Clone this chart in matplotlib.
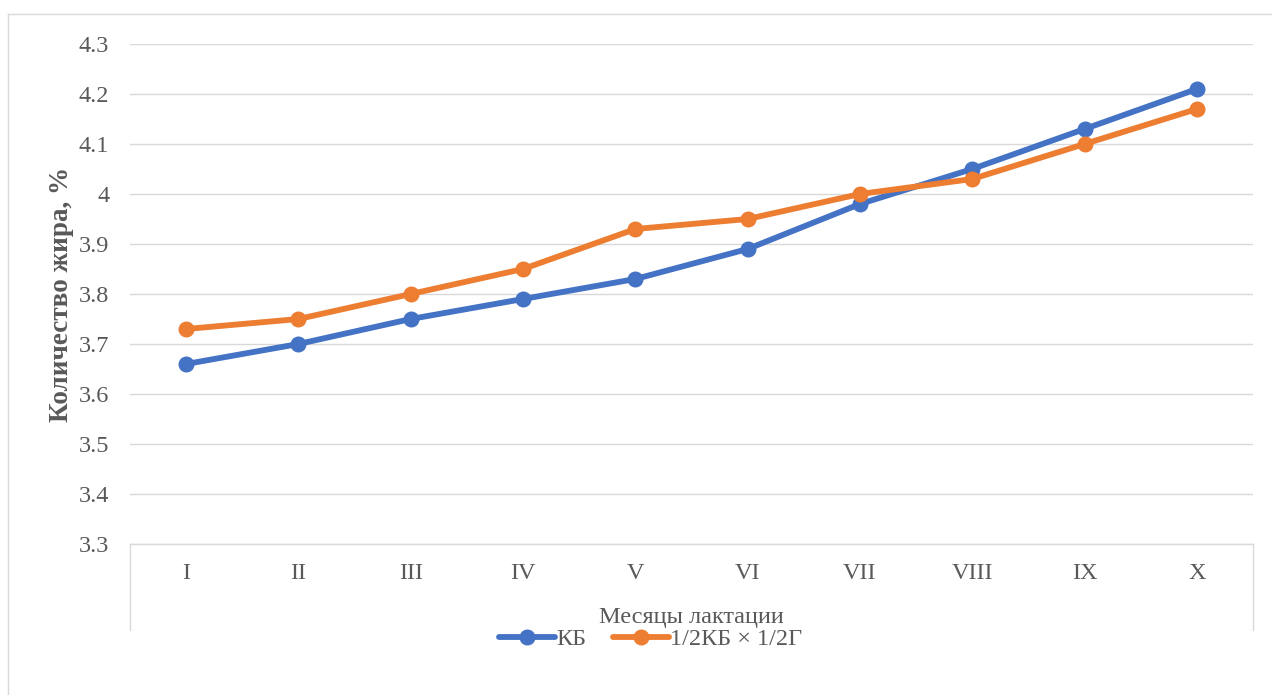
#!/usr/bin/env python3

import matplotlib.pyplot as plt
from matplotlib.lines import Line2D
from matplotlib.ticker import FuncFormatter, MultipleLocator

months = ["I", "II", "III", "IV", "V", "VI", "VII", "VIII", "IX", "X"]
kb = [3.66, 3.70, 3.75, 3.79, 3.83, 3.89, 3.98, 4.05, 4.13, 4.21]
kb_g = [3.73, 3.75, 3.80, 3.85, 3.93, 3.95, 4.00, 4.03, 4.10, 4.17]

series_labels = ["КБ", "1/2КБ × 1/2Г"]
text_color = "#595959"
grid_color = "#D9D9D9"


def main():
    plt.rcParams["font.family"] = ["Liberation Serif", "DejaVu Serif"]

    dpi = 100
    fig = plt.figure(figsize=(1272 / dpi, 695 / dpi), dpi=dpi)
    W, H = 1272, 695
    ax = fig.add_axes([130 / W, 1 - 544 / H, (1253 - 130) / W, 500 / H])

    x = list(range(len(months)))
    ax.plot(x, kb, color="#4472C4", lw=4.2, marker="o", ms=10.5,
            label=series_labels[0], zorder=3, solid_capstyle="round")
    ax.plot(x, kb_g, color="#ED7D31", lw=4.2, marker="o", ms=10.5,
            label=series_labels[1], zorder=3, solid_capstyle="round")

    ax.set_xlim(-0.5, len(months) - 0.5)
    ax.set_ylim(3.3, 4.3)
    ax.yaxis.set_major_locator(MultipleLocator(0.1))
    ax.yaxis.set_major_formatter(FuncFormatter(lambda v, p: f"{round(v, 1):g}"))
    ax.set_xticks(x)
    ax.set_xticklabels(months)
    ax.grid(axis="y", color=grid_color, lw=1.0)
    ax.set_axisbelow(True)

    for side in ("top", "right", "left"):
        ax.spines[side].set_visible(False)
    ax.spines["bottom"].set_color(grid_color)
    ax.spines["bottom"].set_linewidth(1.0)

    ax.tick_params(axis="both", length=0, labelsize=17.5, colors=text_color)
    ax.tick_params(axis="x", pad=14)
    ax.tick_params(axis="y", pad=15)

    # box under the category axis
    for xa in (0, 1):
        ax.plot([xa, xa], [0, -86 / 500], transform=ax.transAxes,
                color=grid_color, lw=1.0, clip_on=False)

    ax.set_xlabel("Месяцы лактации", fontsize=17.5, color=text_color, labelpad=16)
    ax.set_ylabel("Количество жира, %", fontsize=19.5, fontweight="bold",
                  color=text_color, labelpad=3)

    # outer chart border
    fig.add_artist(Line2D([8 / W, 8 / W], [0, 1 - 14 / H], color=grid_color, lw=1.0))
    fig.add_artist(Line2D([8 / W, 1], [1 - 14 / H, 1 - 14 / H], color=grid_color, lw=1.0))

    fig.legend(loc="center", bbox_to_anchor=(651 / W, 1 - 639 / H), ncol=2,
               frameon=False, fontsize=17.5, labelcolor=text_color,
               handlelength=2.3, handletextpad=0.05, columnspacing=1.1)

    plt.savefig("out.png", dpi=dpi)


if __name__ == "__main__":
    main()
